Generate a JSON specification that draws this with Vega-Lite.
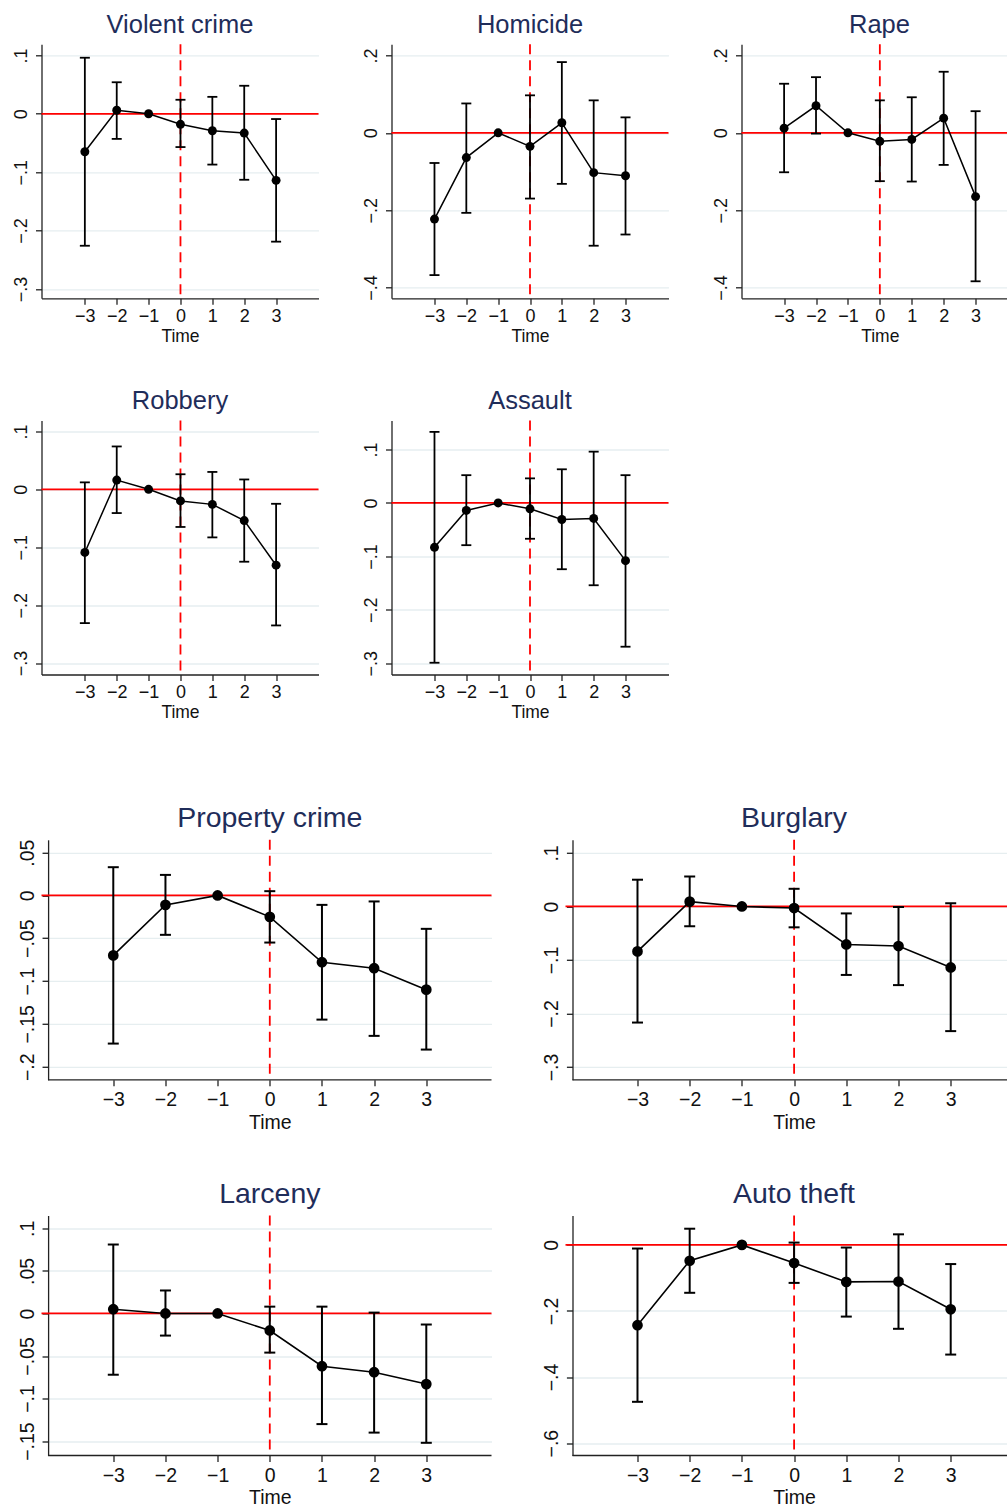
{
 "$schema": "https://vega.github.io/schema/vega-lite/v6.json",
 "padding": {"left": 11.5, "top": 12.3, "right": 0, "bottom": 0},
 "background": "white",
 "datasets": {"d": [
  {"c":"Violent crime","t":-3,"est":-0.065,"lo":-0.226,"hi":0.096},
  {"c":"Violent crime","t":-2,"est":0.006,"lo":-0.043,"hi":0.054},
  {"c":"Violent crime","t":-1,"est":0},
  {"c":"Violent crime","t":0,"est":-0.018,"lo":-0.057,"hi":0.024},
  {"c":"Violent crime","t":1,"est":-0.029,"lo":-0.087,"hi":0.029},
  {"c":"Violent crime","t":2,"est":-0.033,"lo":-0.113,"hi":0.048},
  {"c":"Violent crime","t":3,"est":-0.114,"lo":-0.219,"hi":-0.009},
  {"c":"Homicide","t":-3,"est":-0.223,"lo":-0.368,"hi":-0.078},
  {"c":"Homicide","t":-2,"est":-0.064,"lo":-0.207,"hi":0.076},
  {"c":"Homicide","t":-1,"est":0},
  {"c":"Homicide","t":0,"est":-0.035,"lo":-0.170,"hi":0.097},
  {"c":"Homicide","t":1,"est":0.026,"lo":-0.132,"hi":0.183},
  {"c":"Homicide","t":2,"est":-0.103,"lo":-0.292,"hi":0.084},
  {"c":"Homicide","t":3,"est":-0.111,"lo":-0.263,"hi":0.040},
  {"c":"Rape","t":-3,"est":0.012,"lo":-0.102,"hi":0.127},
  {"c":"Rape","t":-2,"est":0.070,"lo":-0.002,"hi":0.144},
  {"c":"Rape","t":-1,"est":0},
  {"c":"Rape","t":0,"est":-0.022,"lo":-0.125,"hi":0.084},
  {"c":"Rape","t":1,"est":-0.017,"lo":-0.126,"hi":0.092},
  {"c":"Rape","t":2,"est":0.038,"lo":-0.083,"hi":0.158},
  {"c":"Rape","t":3,"est":-0.165,"lo":-0.384,"hi":0.056},
  {"c":"Robbery","t":-3,"est":-0.109,"lo":-0.231,"hi":0.012},
  {"c":"Robbery","t":-2,"est":0.016,"lo":-0.041,"hi":0.074},
  {"c":"Robbery","t":-1,"est":0},
  {"c":"Robbery","t":0,"est":-0.020,"lo":-0.065,"hi":0.026},
  {"c":"Robbery","t":1,"est":-0.026,"lo":-0.083,"hi":0.030},
  {"c":"Robbery","t":2,"est":-0.054,"lo":-0.125,"hi":0.017},
  {"c":"Robbery","t":3,"est":-0.131,"lo":-0.235,"hi":-0.025},
  {"c":"Assault","t":-3,"est":-0.083,"lo":-0.299,"hi":0.133},
  {"c":"Assault","t":-2,"est":-0.014,"lo":-0.079,"hi":0.052},
  {"c":"Assault","t":-1,"est":0},
  {"c":"Assault","t":0,"est":-0.011,"lo":-0.067,"hi":0.046},
  {"c":"Assault","t":1,"est":-0.031,"lo":-0.124,"hi":0.063},
  {"c":"Assault","t":2,"est":-0.029,"lo":-0.154,"hi":0.096},
  {"c":"Assault","t":3,"est":-0.108,"lo":-0.269,"hi":0.052},
  {"c":"Property crime","t":-3,"est":-0.070,"lo":-0.173,"hi":0.033},
  {"c":"Property crime","t":-2,"est":-0.011,"lo":-0.046,"hi":0.024},
  {"c":"Property crime","t":-1,"est":0},
  {"c":"Property crime","t":0,"est":-0.025,"lo":-0.055,"hi":0.005},
  {"c":"Property crime","t":1,"est":-0.078,"lo":-0.145,"hi":-0.011},
  {"c":"Property crime","t":2,"est":-0.085,"lo":-0.164,"hi":-0.007},
  {"c":"Property crime","t":3,"est":-0.110,"lo":-0.180,"hi":-0.039},
  {"c":"Burglary","t":-3,"est":-0.084,"lo":-0.217,"hi":0.050},
  {"c":"Burglary","t":-2,"est":0.009,"lo":-0.037,"hi":0.056},
  {"c":"Burglary","t":-1,"est":0},
  {"c":"Burglary","t":0,"est":-0.003,"lo":-0.039,"hi":0.033},
  {"c":"Burglary","t":1,"est":-0.071,"lo":-0.128,"hi":-0.013},
  {"c":"Burglary","t":2,"est":-0.074,"lo":-0.147,"hi":-0.001},
  {"c":"Burglary","t":3,"est":-0.114,"lo":-0.233,"hi":0.006},
  {"c":"Larceny","t":-3,"est":0.005,"lo":-0.072,"hi":0.081},
  {"c":"Larceny","t":-2,"est":0.000,"lo":-0.026,"hi":0.027},
  {"c":"Larceny","t":-1,"est":0},
  {"c":"Larceny","t":0,"est":-0.020,"lo":-0.046,"hi":0.008},
  {"c":"Larceny","t":1,"est":-0.062,"lo":-0.130,"hi":0.008},
  {"c":"Larceny","t":2,"est":-0.069,"lo":-0.140,"hi":0.001},
  {"c":"Larceny","t":3,"est":-0.083,"lo":-0.152,"hi":-0.013},
  {"c":"Auto theft","t":-3,"est":-0.243,"lo":-0.475,"hi":-0.011},
  {"c":"Auto theft","t":-2,"est":-0.048,"lo":-0.145,"hi":0.049},
  {"c":"Auto theft","t":-1,"est":0},
  {"c":"Auto theft","t":0,"est":-0.055,"lo":-0.115,"hi":0.007},
  {"c":"Auto theft","t":1,"est":-0.112,"lo":-0.217,"hi":-0.008},
  {"c":"Auto theft","t":2,"est":-0.111,"lo":-0.254,"hi":0.032},
  {"c":"Auto theft","t":3,"est":-0.195,"lo":-0.332,"hi":-0.058}
 ]},
 "data": {"name": "d"},
 "config": {
  "view": {"stroke": null},
  "font": "Liberation Sans",
  "title": {"fontSize": 25.5, "color": "#1f2d5a", "fontWeight": "normal", "font": "Liberation Sans", "anchor": "middle", "frame": "group", "offset": 5},
  "axis": {"domainColor": "#222", "tickColor": "#222", "labelColor": "#111", "titleColor": "#111", "domainWidth": 1.3, "tickWidth": 1.3, "gridColor": "#e6eef0", "gridWidth": 1.3, "labelFont": "Liberation Sans", "titleFont": "Liberation Sans", "titleFontWeight": "normal"}
 },
 "spacing": 82.5,
 "vconcat": [
  {"spacing": 43.2, "vconcat": [
   {"hconcat": [
    {"width": 277, "height": 254, "title": {"text": "Violent crime"},
     "transform": [{"filter": "datum.c == 'Violent crime'"}],
     "layer": [
      {"mark": {"type": "line", "color": "#000", "strokeWidth": 1.5, "opacity": 0}, "encoding": {"x": {"field": "t", "type": "quantitative", "scale": {"domain": [-4.36, 4.33], "nice": false, "zero": false}, "axis": {"values": [-3, -2, -1, 0, 1, 2, 3], "format": "d", "title": "Time", "grid": false, "labelFontSize": 18, "titleFontSize": 17.5, "tickSize": 6, "labelPadding": 3, "titlePadding": 2, "labelFlush": false}}, "y": {"field": "est", "type": "quantitative", "scale": {"domain": [-0.316, 0.119], "nice": false, "zero": false}, "axis": {"values": [-0.3, -0.2, -0.1, 0, 0.1], "title": null, "grid": true, "labelAngle": -90, "labelAlign": "center", "labelBaseline": "bottom", "labelFontSize": 18, "tickSize": 6, "labelPadding": 5, "labelExpr": "datum.value == 0 ? '0' : replace(replace(format(datum.value, '.2~f'), '0.', '.'), '-', '−')"}}}},
      {"data": {"values": [{}]}, "mark": {"type": "rule", "color": "#ff0000", "strokeWidth": 1.8, "strokeDash": [10, 6]}, "encoding": {"x": {"datum": 0, "type": "quantitative"}}},
      {"data": {"values": [{}]}, "mark": {"type": "rule", "color": "#ff0000", "strokeWidth": 1.8}, "encoding": {"y": {"datum": 0, "type": "quantitative"}}},
      {"mark": {"type": "rule", "color": "#000", "strokeWidth": 1.8}, "encoding": {"x": {"field": "t", "type": "quantitative"}, "y": {"field": "lo", "type": "quantitative"}, "y2": {"field": "hi"}}},
      {"mark": {"type": "tick", "orient": "horizontal", "color": "#000", "size": 10, "thickness": 1.8, "opacity": 1}, "encoding": {"x": {"field": "t", "type": "quantitative"}, "y": {"field": "lo", "type": "quantitative"}}},
      {"mark": {"type": "tick", "orient": "horizontal", "color": "#000", "size": 10, "thickness": 1.8, "opacity": 1}, "encoding": {"x": {"field": "t", "type": "quantitative"}, "y": {"field": "hi", "type": "quantitative"}}},
      {"mark": {"type": "line", "color": "#000", "strokeWidth": 1.5}, "encoding": {"x": {"field": "t", "type": "quantitative"}, "y": {"field": "est", "type": "quantitative"}}},
      {"mark": {"type": "circle", "color": "#000", "size": 80, "opacity": 1}, "encoding": {"x": {"field": "t", "type": "quantitative"}, "y": {"field": "est", "type": "quantitative"}}}
     ]},
    {"width": 277, "height": 254, "title": {"text": "Homicide"},
     "transform": [{"filter": "datum.c == 'Homicide'"}],
     "layer": [
      {"mark": {"type": "line", "color": "#000", "strokeWidth": 1.5, "opacity": 0}, "encoding": {"x": {"field": "t", "type": "quantitative", "scale": {"domain": [-4.35, 4.35], "nice": false, "zero": false}, "axis": {"values": [-3, -2, -1, 0, 1, 2, 3], "format": "d", "title": "Time", "grid": false, "labelFontSize": 18, "titleFontSize": 17.5, "tickSize": 6, "labelPadding": 3, "titlePadding": 2, "labelFlush": false}}, "y": {"field": "est", "type": "quantitative", "scale": {"domain": [-0.428, 0.229], "nice": false, "zero": false}, "axis": {"values": [-0.4, -0.2, 0, 0.2], "title": null, "grid": true, "labelAngle": -90, "labelAlign": "center", "labelBaseline": "bottom", "labelFontSize": 18, "tickSize": 6, "labelPadding": 5, "labelExpr": "datum.value == 0 ? '0' : replace(replace(format(datum.value, '.2~f'), '0.', '.'), '-', '−')"}}}},
      {"data": {"values": [{}]}, "mark": {"type": "rule", "color": "#ff0000", "strokeWidth": 1.8, "strokeDash": [10, 6]}, "encoding": {"x": {"datum": 0, "type": "quantitative"}}},
      {"data": {"values": [{}]}, "mark": {"type": "rule", "color": "#ff0000", "strokeWidth": 1.8}, "encoding": {"y": {"datum": 0, "type": "quantitative"}}},
      {"mark": {"type": "rule", "color": "#000", "strokeWidth": 1.8}, "encoding": {"x": {"field": "t", "type": "quantitative"}, "y": {"field": "lo", "type": "quantitative"}, "y2": {"field": "hi"}}},
      {"mark": {"type": "tick", "orient": "horizontal", "color": "#000", "size": 10, "thickness": 1.8, "opacity": 1}, "encoding": {"x": {"field": "t", "type": "quantitative"}, "y": {"field": "lo", "type": "quantitative"}}},
      {"mark": {"type": "tick", "orient": "horizontal", "color": "#000", "size": 10, "thickness": 1.8, "opacity": 1}, "encoding": {"x": {"field": "t", "type": "quantitative"}, "y": {"field": "hi", "type": "quantitative"}}},
      {"mark": {"type": "line", "color": "#000", "strokeWidth": 1.5}, "encoding": {"x": {"field": "t", "type": "quantitative"}, "y": {"field": "est", "type": "quantitative"}}},
      {"mark": {"type": "circle", "color": "#000", "size": 80, "opacity": 1}, "encoding": {"x": {"field": "t", "type": "quantitative"}, "y": {"field": "est", "type": "quantitative"}}}
     ]},
    {"width": 266, "height": 254, "title": {"text": "Rape", "dx": 5},
     "transform": [{"filter": "datum.c == 'Rape'"}],
     "layer": [
      {"mark": {"type": "line", "color": "#000", "strokeWidth": 1.5, "opacity": 0}, "encoding": {"x": {"field": "t", "type": "quantitative", "scale": {"domain": [-4.335, 4.0], "nice": false, "zero": false}, "axis": {"values": [-3, -2, -1, 0, 1, 2, 3], "format": "d", "title": "Time", "titleX": 138.3, "grid": false, "labelFontSize": 18, "titleFontSize": 17.5, "tickSize": 6, "labelPadding": 3, "titlePadding": 2, "labelFlush": false}}, "y": {"field": "est", "type": "quantitative", "scale": {"domain": [-0.428, 0.229], "nice": false, "zero": false}, "axis": {"values": [-0.4, -0.2, 0, 0.2], "title": null, "grid": true, "labelAngle": -90, "labelAlign": "center", "labelBaseline": "bottom", "labelFontSize": 18, "tickSize": 6, "labelPadding": 5, "labelExpr": "datum.value == 0 ? '0' : replace(replace(format(datum.value, '.2~f'), '0.', '.'), '-', '−')"}}}},
      {"data": {"values": [{}]}, "mark": {"type": "rule", "color": "#ff0000", "strokeWidth": 1.8, "strokeDash": [10, 6]}, "encoding": {"x": {"datum": 0, "type": "quantitative"}}},
      {"data": {"values": [{}]}, "mark": {"type": "rule", "color": "#ff0000", "strokeWidth": 1.8}, "encoding": {"y": {"datum": 0, "type": "quantitative"}}},
      {"mark": {"type": "rule", "color": "#000", "strokeWidth": 1.8}, "encoding": {"x": {"field": "t", "type": "quantitative"}, "y": {"field": "lo", "type": "quantitative"}, "y2": {"field": "hi"}}},
      {"mark": {"type": "tick", "orient": "horizontal", "color": "#000", "size": 10, "thickness": 1.8, "opacity": 1}, "encoding": {"x": {"field": "t", "type": "quantitative"}, "y": {"field": "lo", "type": "quantitative"}}},
      {"mark": {"type": "tick", "orient": "horizontal", "color": "#000", "size": 10, "thickness": 1.8, "opacity": 1}, "encoding": {"x": {"field": "t", "type": "quantitative"}, "y": {"field": "hi", "type": "quantitative"}}},
      {"mark": {"type": "line", "color": "#000", "strokeWidth": 1.5}, "encoding": {"x": {"field": "t", "type": "quantitative"}, "y": {"field": "est", "type": "quantitative"}}},
      {"mark": {"type": "circle", "color": "#000", "size": 80, "opacity": 1}, "encoding": {"x": {"field": "t", "type": "quantitative"}, "y": {"field": "est", "type": "quantitative"}}}
     ]}
   ], "spacing": 73, "bounds": "flush"},
   {"hconcat": [
    {"width": 277, "height": 254, "title": {"text": "Robbery"},
     "transform": [{"filter": "datum.c == 'Robbery'"}],
     "layer": [
      {"mark": {"type": "line", "color": "#000", "strokeWidth": 1.5, "opacity": 0}, "encoding": {"x": {"field": "t", "type": "quantitative", "scale": {"domain": [-4.36, 4.33], "nice": false, "zero": false}, "axis": {"values": [-3, -2, -1, 0, 1, 2, 3], "format": "d", "title": "Time", "grid": false, "labelFontSize": 18, "titleFontSize": 17.5, "tickSize": 6, "labelPadding": 3, "titlePadding": 2, "labelFlush": false}}, "y": {"field": "est", "type": "quantitative", "scale": {"domain": [-0.3197, 0.1188], "nice": false, "zero": false}, "axis": {"values": [-0.3, -0.2, -0.1, 0, 0.1], "title": null, "grid": true, "labelAngle": -90, "labelAlign": "center", "labelBaseline": "bottom", "labelFontSize": 18, "tickSize": 6, "labelPadding": 5, "labelExpr": "datum.value == 0 ? '0' : replace(replace(format(datum.value, '.2~f'), '0.', '.'), '-', '−')"}}}},
      {"data": {"values": [{}]}, "mark": {"type": "rule", "color": "#ff0000", "strokeWidth": 1.8, "strokeDash": [10, 6]}, "encoding": {"x": {"datum": 0, "type": "quantitative"}}},
      {"data": {"values": [{}]}, "mark": {"type": "rule", "color": "#ff0000", "strokeWidth": 1.8}, "encoding": {"y": {"datum": 0, "type": "quantitative"}}},
      {"mark": {"type": "rule", "color": "#000", "strokeWidth": 1.8}, "encoding": {"x": {"field": "t", "type": "quantitative"}, "y": {"field": "lo", "type": "quantitative"}, "y2": {"field": "hi"}}},
      {"mark": {"type": "tick", "orient": "horizontal", "color": "#000", "size": 10, "thickness": 1.8, "opacity": 1}, "encoding": {"x": {"field": "t", "type": "quantitative"}, "y": {"field": "lo", "type": "quantitative"}}},
      {"mark": {"type": "tick", "orient": "horizontal", "color": "#000", "size": 10, "thickness": 1.8, "opacity": 1}, "encoding": {"x": {"field": "t", "type": "quantitative"}, "y": {"field": "hi", "type": "quantitative"}}},
      {"mark": {"type": "line", "color": "#000", "strokeWidth": 1.5}, "encoding": {"x": {"field": "t", "type": "quantitative"}, "y": {"field": "est", "type": "quantitative"}}},
      {"mark": {"type": "circle", "color": "#000", "size": 80, "opacity": 1}, "encoding": {"x": {"field": "t", "type": "quantitative"}, "y": {"field": "est", "type": "quantitative"}}}
     ]},
    {"width": 277, "height": 254, "title": {"text": "Assault"},
     "transform": [{"filter": "datum.c == 'Assault'"}],
     "layer": [
      {"mark": {"type": "line", "color": "#000", "strokeWidth": 1.5, "opacity": 0}, "encoding": {"x": {"field": "t", "type": "quantitative", "scale": {"domain": [-4.35, 4.35], "nice": false, "zero": false}, "axis": {"values": [-3, -2, -1, 0, 1, 2, 3], "format": "d", "title": "Time", "grid": false, "labelFontSize": 18, "titleFontSize": 17.5, "tickSize": 6, "labelPadding": 3, "titlePadding": 2, "labelFlush": false}}, "y": {"field": "est", "type": "quantitative", "scale": {"domain": [-0.321, 0.1543], "nice": false, "zero": false}, "axis": {"values": [-0.3, -0.2, -0.1, 0, 0.1], "title": null, "grid": true, "labelAngle": -90, "labelAlign": "center", "labelBaseline": "bottom", "labelFontSize": 18, "tickSize": 6, "labelPadding": 5, "labelExpr": "datum.value == 0 ? '0' : replace(replace(format(datum.value, '.2~f'), '0.', '.'), '-', '−')"}}}},
      {"data": {"values": [{}]}, "mark": {"type": "rule", "color": "#ff0000", "strokeWidth": 1.8, "strokeDash": [10, 6]}, "encoding": {"x": {"datum": 0, "type": "quantitative"}}},
      {"data": {"values": [{}]}, "mark": {"type": "rule", "color": "#ff0000", "strokeWidth": 1.8}, "encoding": {"y": {"datum": 0, "type": "quantitative"}}},
      {"mark": {"type": "rule", "color": "#000", "strokeWidth": 1.8}, "encoding": {"x": {"field": "t", "type": "quantitative"}, "y": {"field": "lo", "type": "quantitative"}, "y2": {"field": "hi"}}},
      {"mark": {"type": "tick", "orient": "horizontal", "color": "#000", "size": 10, "thickness": 1.8, "opacity": 1}, "encoding": {"x": {"field": "t", "type": "quantitative"}, "y": {"field": "lo", "type": "quantitative"}}},
      {"mark": {"type": "tick", "orient": "horizontal", "color": "#000", "size": 10, "thickness": 1.8, "opacity": 1}, "encoding": {"x": {"field": "t", "type": "quantitative"}, "y": {"field": "hi", "type": "quantitative"}}},
      {"mark": {"type": "line", "color": "#000", "strokeWidth": 1.5}, "encoding": {"x": {"field": "t", "type": "quantitative"}, "y": {"field": "est", "type": "quantitative"}}},
      {"mark": {"type": "circle", "color": "#000", "size": 80, "opacity": 1}, "encoding": {"x": {"field": "t", "type": "quantitative"}, "y": {"field": "est", "type": "quantitative"}}}
     ]}
   ], "spacing": 73, "bounds": "flush"}
  ]},
  {"spacing": 47.7, "vconcat": [
   {"hconcat": [
    {"width": 450, "height": 240, "title": {"text": "Property crime", "fontSize": 28.5, "dx": 3.3, "offset": 6},
     "transform": [{"filter": "datum.c == 'Property crime'"}],
     "layer": [
      {"mark": {"type": "line", "color": "#000", "strokeWidth": 1.6, "opacity": 0}, "encoding": {"x": {"field": "t", "type": "quantitative", "scale": {"domain": [-4.376, 4.25], "nice": false, "zero": false}, "axis": {"values": [-3, -2, -1, 0, 1, 2, 3], "format": "d", "title": "Time", "titleX": 228.3, "grid": false, "domain": false, "labelFontSize": 19.5, "titleFontSize": 19.5, "tickSize": 6, "labelPadding": 5, "titlePadding": 4, "labelFlush": false}}, "y": {"field": "est", "type": "quantitative", "scale": {"domain": [-0.2153, 0.065], "nice": false, "zero": false}, "axis": {"values": [-0.2, -0.15, -0.1, -0.05, 0, 0.05], "title": null, "grid": true, "offset": -6.6, "labelAngle": -90, "labelAlign": "center", "labelBaseline": "bottom", "labelFontSize": 19.5, "tickSize": 6, "labelPadding": 5, "labelExpr": "datum.value == 0 ? '0' : replace(replace(format(datum.value, '.2~f'), '0.', '.'), '-', '−')"}}}},
      {"data": {"values": [{}]}, "mark": {"type": "rule", "color": "#ff0000", "strokeWidth": 1.8, "strokeDash": [10, 6]}, "encoding": {"x": {"datum": 0, "type": "quantitative"}}},
      {"data": {"values": [{}]}, "mark": {"type": "rule", "color": "#ff0000", "strokeWidth": 1.8}, "encoding": {"y": {"datum": 0, "type": "quantitative"}}},
      {"data": {"values": [{}]}, "mark": {"type": "rule", "color": "#222", "strokeWidth": 1.3}, "encoding": {"x": {"datum": -4.25, "type": "quantitative"}, "x2": {"datum": 4.25}, "y": {"datum": -0.2153, "type": "quantitative"}}},
      {"mark": {"type": "rule", "color": "#000", "strokeWidth": 2}, "encoding": {"x": {"field": "t", "type": "quantitative"}, "y": {"field": "lo", "type": "quantitative"}, "y2": {"field": "hi"}}},
      {"mark": {"type": "tick", "orient": "horizontal", "color": "#000", "size": 11, "thickness": 2, "opacity": 1}, "encoding": {"x": {"field": "t", "type": "quantitative"}, "y": {"field": "lo", "type": "quantitative"}}},
      {"mark": {"type": "tick", "orient": "horizontal", "color": "#000", "size": 11, "thickness": 2, "opacity": 1}, "encoding": {"x": {"field": "t", "type": "quantitative"}, "y": {"field": "hi", "type": "quantitative"}}},
      {"mark": {"type": "line", "color": "#000", "strokeWidth": 1.6}, "encoding": {"x": {"field": "t", "type": "quantitative"}, "y": {"field": "est", "type": "quantitative"}}},
      {"mark": {"type": "circle", "color": "#000", "size": 115, "opacity": 1}, "encoding": {"x": {"field": "t", "type": "quantitative"}, "y": {"field": "est", "type": "quantitative"}}}
     ]},
    {"width": 442, "height": 240, "title": {"text": "Burglary", "fontSize": 28.5, "dx": 7.5, "offset": 6},
     "transform": [{"filter": "datum.c == 'Burglary'"}],
     "layer": [
      {"mark": {"type": "line", "color": "#000", "strokeWidth": 1.6, "opacity": 0}, "encoding": {"x": {"field": "t", "type": "quantitative", "scale": {"domain": [-4.379, 4.088], "nice": false, "zero": false}, "axis": {"values": [-3, -2, -1, 0, 1, 2, 3], "format": "d", "title": "Time", "titleX": 228.6, "grid": false, "domain": false, "labelFontSize": 19.5, "titleFontSize": 19.5, "tickSize": 6, "labelPadding": 5, "titlePadding": 4, "labelFlush": false}}, "y": {"field": "est", "type": "quantitative", "scale": {"domain": [-0.324, 0.1246], "nice": false, "zero": false}, "axis": {"values": [-0.3, -0.2, -0.1, 0, 0.1], "title": null, "grid": true, "offset": -7, "labelAngle": -90, "labelAlign": "center", "labelBaseline": "bottom", "labelFontSize": 19.5, "tickSize": 6, "labelPadding": 5, "labelExpr": "datum.value == 0 ? '0' : replace(replace(format(datum.value, '.2~f'), '0.', '.'), '-', '−')"}}}},
      {"data": {"values": [{}]}, "mark": {"type": "rule", "color": "#ff0000", "strokeWidth": 1.8, "strokeDash": [10, 6]}, "encoding": {"x": {"datum": 0, "type": "quantitative"}}},
      {"data": {"values": [{}]}, "mark": {"type": "rule", "color": "#ff0000", "strokeWidth": 1.8}, "encoding": {"y": {"datum": 0, "type": "quantitative"}}},
      {"data": {"values": [{}]}, "mark": {"type": "rule", "color": "#222", "strokeWidth": 1.3}, "encoding": {"x": {"datum": -4.245, "type": "quantitative"}, "x2": {"datum": 4.088}, "y": {"datum": -0.324, "type": "quantitative"}}},
      {"mark": {"type": "rule", "color": "#000", "strokeWidth": 2}, "encoding": {"x": {"field": "t", "type": "quantitative"}, "y": {"field": "lo", "type": "quantitative"}, "y2": {"field": "hi"}}},
      {"mark": {"type": "tick", "orient": "horizontal", "color": "#000", "size": 11, "thickness": 2, "opacity": 1}, "encoding": {"x": {"field": "t", "type": "quantitative"}, "y": {"field": "lo", "type": "quantitative"}}},
      {"mark": {"type": "tick", "orient": "horizontal", "color": "#000", "size": 11, "thickness": 2, "opacity": 1}, "encoding": {"x": {"field": "t", "type": "quantitative"}, "y": {"field": "hi", "type": "quantitative"}}},
      {"mark": {"type": "line", "color": "#000", "strokeWidth": 1.6}, "encoding": {"x": {"field": "t", "type": "quantitative"}, "y": {"field": "est", "type": "quantitative"}}},
      {"mark": {"type": "circle", "color": "#000", "size": 115, "opacity": 1}, "encoding": {"x": {"field": "t", "type": "quantitative"}, "y": {"field": "est", "type": "quantitative"}}}
     ]}
   ], "spacing": 74, "bounds": "flush"},
   {"hconcat": [
    {"width": 450, "height": 240, "title": {"text": "Larceny", "fontSize": 28.5, "dx": 3.3, "offset": 6},
     "transform": [{"filter": "datum.c == 'Larceny'"}],
     "layer": [
      {"mark": {"type": "line", "color": "#000", "strokeWidth": 1.6, "opacity": 0}, "encoding": {"x": {"field": "t", "type": "quantitative", "scale": {"domain": [-4.376, 4.25], "nice": false, "zero": false}, "axis": {"values": [-3, -2, -1, 0, 1, 2, 3], "format": "d", "title": "Time", "titleX": 228.3, "grid": false, "domain": false, "labelFontSize": 19.5, "titleFontSize": 19.5, "tickSize": 6, "labelPadding": 5, "titlePadding": 4, "labelFlush": false}}, "y": {"field": "est", "type": "quantitative", "scale": {"domain": [-0.1669, 0.1151], "nice": false, "zero": false}, "axis": {"values": [-0.15, -0.1, -0.05, 0, 0.05, 0.1], "title": null, "grid": true, "offset": -6.6, "labelAngle": -90, "labelAlign": "center", "labelBaseline": "bottom", "labelFontSize": 19.5, "tickSize": 6, "labelPadding": 5, "labelExpr": "datum.value == 0 ? '0' : replace(replace(format(datum.value, '.2~f'), '0.', '.'), '-', '−')"}}}},
      {"data": {"values": [{}]}, "mark": {"type": "rule", "color": "#ff0000", "strokeWidth": 1.8, "strokeDash": [10, 6]}, "encoding": {"x": {"datum": 0, "type": "quantitative"}}},
      {"data": {"values": [{}]}, "mark": {"type": "rule", "color": "#ff0000", "strokeWidth": 1.8}, "encoding": {"y": {"datum": 0, "type": "quantitative"}}},
      {"data": {"values": [{}]}, "mark": {"type": "rule", "color": "#222", "strokeWidth": 1.3}, "encoding": {"x": {"datum": -4.25, "type": "quantitative"}, "x2": {"datum": 4.25}, "y": {"datum": -0.1669, "type": "quantitative"}}},
      {"mark": {"type": "rule", "color": "#000", "strokeWidth": 2}, "encoding": {"x": {"field": "t", "type": "quantitative"}, "y": {"field": "lo", "type": "quantitative"}, "y2": {"field": "hi"}}},
      {"mark": {"type": "tick", "orient": "horizontal", "color": "#000", "size": 11, "thickness": 2, "opacity": 1}, "encoding": {"x": {"field": "t", "type": "quantitative"}, "y": {"field": "lo", "type": "quantitative"}}},
      {"mark": {"type": "tick", "orient": "horizontal", "color": "#000", "size": 11, "thickness": 2, "opacity": 1}, "encoding": {"x": {"field": "t", "type": "quantitative"}, "y": {"field": "hi", "type": "quantitative"}}},
      {"mark": {"type": "line", "color": "#000", "strokeWidth": 1.6}, "encoding": {"x": {"field": "t", "type": "quantitative"}, "y": {"field": "est", "type": "quantitative"}}},
      {"mark": {"type": "circle", "color": "#000", "size": 115, "opacity": 1}, "encoding": {"x": {"field": "t", "type": "quantitative"}, "y": {"field": "est", "type": "quantitative"}}}
     ]},
    {"width": 442, "height": 240, "title": {"text": "Auto theft", "fontSize": 28.5, "dx": 7.5, "offset": 6},
     "transform": [{"filter": "datum.c == 'Auto theft'"}],
     "layer": [
      {"mark": {"type": "line", "color": "#000", "strokeWidth": 1.6, "opacity": 0}, "encoding": {"x": {"field": "t", "type": "quantitative", "scale": {"domain": [-4.379, 4.088], "nice": false, "zero": false}, "axis": {"values": [-3, -2, -1, 0, 1, 2, 3], "format": "d", "title": "Time", "titleX": 228.6, "grid": false, "domain": false, "labelFontSize": 19.5, "titleFontSize": 19.5, "tickSize": 6, "labelPadding": 5, "titlePadding": 4, "labelFlush": false}}, "y": {"field": "est", "type": "quantitative", "scale": {"domain": [-0.6375, 0.089], "nice": false, "zero": false}, "axis": {"values": [-0.6, -0.4, -0.2, 0], "title": null, "grid": true, "offset": -7, "labelAngle": -90, "labelAlign": "center", "labelBaseline": "bottom", "labelFontSize": 19.5, "tickSize": 6, "labelPadding": 5, "labelExpr": "datum.value == 0 ? '0' : replace(replace(format(datum.value, '.2~f'), '0.', '.'), '-', '−')"}}}},
      {"data": {"values": [{}]}, "mark": {"type": "rule", "color": "#ff0000", "strokeWidth": 1.8, "strokeDash": [10, 6]}, "encoding": {"x": {"datum": 0, "type": "quantitative"}}},
      {"data": {"values": [{}]}, "mark": {"type": "rule", "color": "#ff0000", "strokeWidth": 1.8}, "encoding": {"y": {"datum": 0, "type": "quantitative"}}},
      {"data": {"values": [{}]}, "mark": {"type": "rule", "color": "#222", "strokeWidth": 1.3}, "encoding": {"x": {"datum": -4.245, "type": "quantitative"}, "x2": {"datum": 4.088}, "y": {"datum": -0.6375, "type": "quantitative"}}},
      {"mark": {"type": "rule", "color": "#000", "strokeWidth": 2}, "encoding": {"x": {"field": "t", "type": "quantitative"}, "y": {"field": "lo", "type": "quantitative"}, "y2": {"field": "hi"}}},
      {"mark": {"type": "tick", "orient": "horizontal", "color": "#000", "size": 11, "thickness": 2, "opacity": 1}, "encoding": {"x": {"field": "t", "type": "quantitative"}, "y": {"field": "lo", "type": "quantitative"}}},
      {"mark": {"type": "tick", "orient": "horizontal", "color": "#000", "size": 11, "thickness": 2, "opacity": 1}, "encoding": {"x": {"field": "t", "type": "quantitative"}, "y": {"field": "hi", "type": "quantitative"}}},
      {"mark": {"type": "line", "color": "#000", "strokeWidth": 1.6}, "encoding": {"x": {"field": "t", "type": "quantitative"}, "y": {"field": "est", "type": "quantitative"}}},
      {"mark": {"type": "circle", "color": "#000", "size": 115, "opacity": 1}, "encoding": {"x": {"field": "t", "type": "quantitative"}, "y": {"field": "est", "type": "quantitative"}}}
     ]}
   ], "spacing": 74, "bounds": "flush"}
  ]}
 ]
}
